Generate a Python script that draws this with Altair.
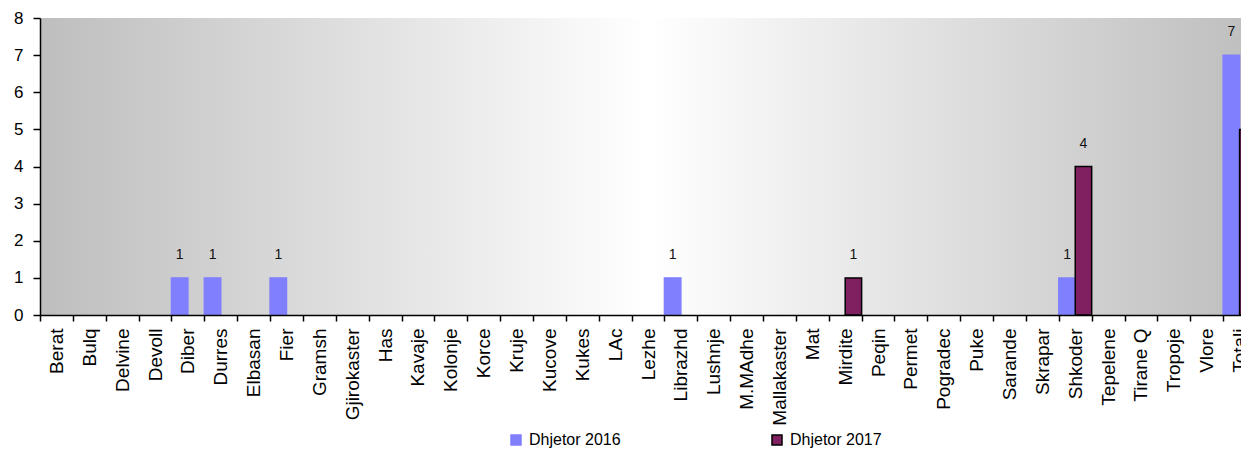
import altair as alt
import pandas as pd

categories = ["Berat", "Bulq", "Delvine", "Devoll", "Diber", "Durres", "Elbasan", "Fier",
              "Gramsh", "Gjirokaster", "Has", "Kavaje", "Kolonje", "Korce", "Kruje", "Kucove",
              "Kukes", "LAc", "Lezhe", "Librazhd", "Lushnje", "M.MAdhe", "Mallakaster", "Mat",
              "Mirdite", "Peqin", "Permet", "Pogradec", "Puke", "Sarande", "Skrapar", "Shkoder",
              "Tepelene", "Tirane Q", "Tropoje", "Vlore", "Totali"]
values_2016 = [0, 0, 0, 0, 1, 1, 0, 1, 0, 0, 0, 0, 0, 0, 0, 0, 0, 0, 0, 1, 0, 0, 0, 0,
               0, 0, 0, 0, 0, 0, 0, 1, 0, 0, 0, 0, 7]
values_2017 = [0, 0, 0, 0, 0, 0, 0, 0, 0, 0, 0, 0, 0, 0, 0, 0, 0, 0, 0, 0, 0, 0, 0, 0,
               1, 0, 0, 0, 0, 0, 0, 4, 0, 0, 0, 0, 5]
series = ["Dhjetor 2016", "Dhjetor 2017"]
colors = ["#8080FF", "#802060"]
strokes = ["#8080FF", "#000000"]
y_ticks = [0, 1, 2, 3, 4, 5, 6, 7, 8]

rows = []
for c, a, b in zip(categories, values_2016, values_2017):
    rows.append({"cat": c, "series": series[0], "value": a})
    rows.append({"cat": c, "series": series[1], "value": b})
df = pd.DataFrame(rows)

W = 1201
FULL = 1216
H = 297

xscale = alt.Scale(domain=categories, range=[0, FULL], paddingInner=0, paddingOuter=0)
yscale = alt.Scale(domain=[0, 8], nice=False)
offscale = alt.Scale(domain=series, paddingInner=0, paddingOuter=0)

x_axis = alt.Axis(title=None, labelAngle=-90, labelAlign="right", labelBaseline="middle",
                  labelFontSize=19, labelPadding=7, tickBand="extent", ticks=True, tickSize=6,
                  tickColor="#000000", tickWidth=1.5, domainColor="#000000", domainWidth=1.5,
                  labelColor="#000000", grid=False, zindex=1)
y_axis = alt.Axis(title=None, values=y_ticks, labelFontSize=17, labelColor="#000000",
                  ticks=True, tickSize=7, tickColor="#000000", tickWidth=1.5,
                  domainColor="#000000", domainWidth=1.5, grid=False, labelPadding=10,
                  labelAlign="right", labelBaseline="middle", zindex=1)

bg = alt.Chart(pd.DataFrame({"a": [0]})).mark_rect(
    fill=alt.LinearGradient(
        gradient="linear", x1=0, y1=0, x2=1, y2=0,
        stops=[alt.GradientStop(offset=0, color="#BEBEBE"),
               alt.GradientStop(offset=0.5, color="#FFFFFF"),
               alt.GradientStop(offset=1, color="#BEBEBE")]
    )
).encode(x=alt.value(0), x2=alt.value(FULL), y=alt.value(0), y2=alt.value(H))

base = alt.Chart(df).transform_filter("datum.value > 0")

leg = alt.Legend(title=None, orient="none", legendX=468, legendY=414,
                 direction="horizontal", symbolType="square", symbolSize=100,
                 labelFontSize=16, labelColor="#000000", columnPadding=148,
                 symbolStrokeWidth=1.5, labelOffset=5)

bars = base.mark_bar(strokeWidth=1.5).encode(
    x=alt.X("cat:N", scale=xscale, sort=categories, axis=x_axis),
    xOffset=alt.XOffset("series:N", scale=offscale),
    y=alt.Y("value:Q", scale=yscale, axis=y_axis),
    fill=alt.Fill("series:N", scale=alt.Scale(domain=series, range=colors), legend=leg),
    stroke=alt.Stroke("series:N", scale=alt.Scale(domain=series, range=strokes), legend=leg),
)

labels = base.mark_text(
    baseline="alphabetic", dy=-19, fontSize=14, color="#111111"
).encode(
    x=alt.X("cat:N", scale=xscale, sort=categories, axis=x_axis),
    xOffset=alt.XOffset("series:N", scale=offscale),
    y=alt.Y("value:Q", scale=yscale, axis=y_axis),
    text=alt.Text("value:Q"),
)

chart = alt.layer(bg, bars, labels).properties(
    width=W, height=H,
    autosize=alt.AutoSizeParams(type="none"),
    padding={"left": 32, "top": 10, "right": 0, "bottom": 134},
).configure_view(stroke=None).configure(font="Liberation Sans").configure_axis(
    labelFont="Liberation Sans"
).configure_axisY(ticks=True, tickSize=7, labelPadding=10, tickColor="#000000")

chart.save("out.html", embed_options={"renderer": "svg", "actions": False})
